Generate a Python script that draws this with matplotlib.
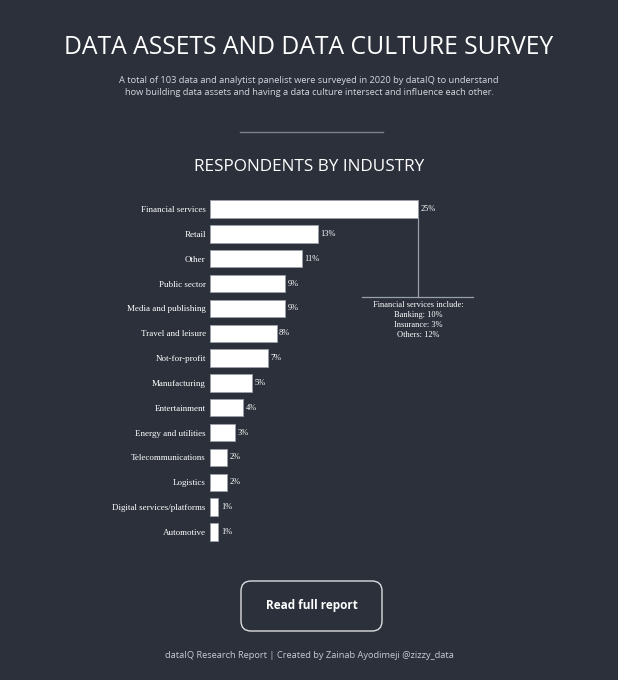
import numpy as np
import matplotlib.pyplot as plt
from matplotlib.patches import FancyBboxPatch

industries = ['Financial services', 'Retail', 'Other', 'Public sector',
              'Media and publishing', 'Travel and leisure', 'Not-for-profit',
              'Manufacturing', 'Entertainment', 'Energy and utilities',
              'Telecommunications', 'Logistics', 'Digital services/platforms',
              'Automotive']
shares = [25, 13, 11, 9, 9, 8, 7, 5, 4, 3, 2, 2, 1, 1]
financial_note = ['Financial services include:', 'Banking: 10%',
                  'Insurance: 3%', 'Others: 12%']

bg = '#2b303b'
W, H = 618, 680

fig = plt.figure(figsize=(W / 100, H / 100), dpi=100, facecolor=bg)

def fx(px):
    return px / W

def fy(py):
    return 1 - py / H

sans = ['Open Sans', 'DejaVu Sans']
serif = ['Liberation Serif', 'DejaVu Serif']

fig.text(0.5, fy(48), 'DATA ASSETS AND DATA CULTURE SURVEY', ha='center',
         va='center', color='white', fontsize=17.8, family=sans)
fig.text(0.5, fy(86.5), 'A total of 103 data and analytist panelist were surveyed in 2020 by dataIQ to understand\n'
         'how building data assets and having a data culture intersect and influence each other.',
         ha='center', va='center', color='#d5d7dc', fontsize=6.7, family=sans,
         linespacing=1.4)
fig.add_artist(plt.Line2D([fx(240), fx(383)], [fy(132), fy(132)],
                          color='#7c808a', lw=1))
fig.text(0.5, fy(167), 'RESPONDENTS BY INDUSTRY', ha='center', va='center',
         color='white', fontsize=12.3, family=sans)

# bar chart
unit_y = (532 - 209) / 13
top = 209 - unit_y / 2
n = len(industries)
ax = fig.add_axes([fx(210), fy(top + unit_y * n), fx(8.32 * 32), unit_y * n / H])
ax.set_facecolor('none')
y = np.arange(n)
ax.barh(y, shares, height=0.7, color='white', edgecolor='#9aa0aa', lw=0.6)
ax.set_xlim(0, 32)
ax.set_ylim(n - 0.5, -0.5)
ax.set_yticks(y)
ax.set_yticklabels(industries, family=serif, fontsize=6.5, color='white')
ax.tick_params(axis='y', length=0, pad=3)
ax.set_xticks([])
for s in ax.spines.values():
    s.set_visible(False)
for i, v in enumerate(shares):
    ax.text(v + 0.3, i, f'{v}%', va='center', ha='left', color='white',
            fontsize=6, family=serif)

# annotation for financial services
line_y = 3.54
ax.plot([shares[0], shares[0]], [0.35, line_y], color='#9aa0aa', lw=0.9)
ax.plot([18.3, 31.6], [line_y, line_y], color='#9aa0aa', lw=0.9)
ax.text(shares[0], line_y + 0.17, '\n'.join(financial_note), ha='center',
        va='top', color='white', fontsize=6, family=serif, linespacing=1.3)

# button
btn = FancyBboxPatch((2.41, 0.49), 1.41, 0.50,
                     boxstyle='round,pad=0,rounding_size=0.1',
                     transform=fig.dpi_scale_trans, facecolor='none',
                     edgecolor='#dcdde0', lw=1)
fig.add_artist(btn)
fig.text(fx(311.5), fy(606), 'Read full report', ha='center', va='center',
         color='white', fontsize=8.5, fontweight='bold', family=sans)
fig.text(0.5, fy(655), 'dataIQ Research Report | Created by Zainab Ayodimeji @zizzy_data',
         ha='center', va='center', color='#c8cad0', fontsize=6.7, family=sans)

fig.savefig('out.png', dpi=100, facecolor=bg)
